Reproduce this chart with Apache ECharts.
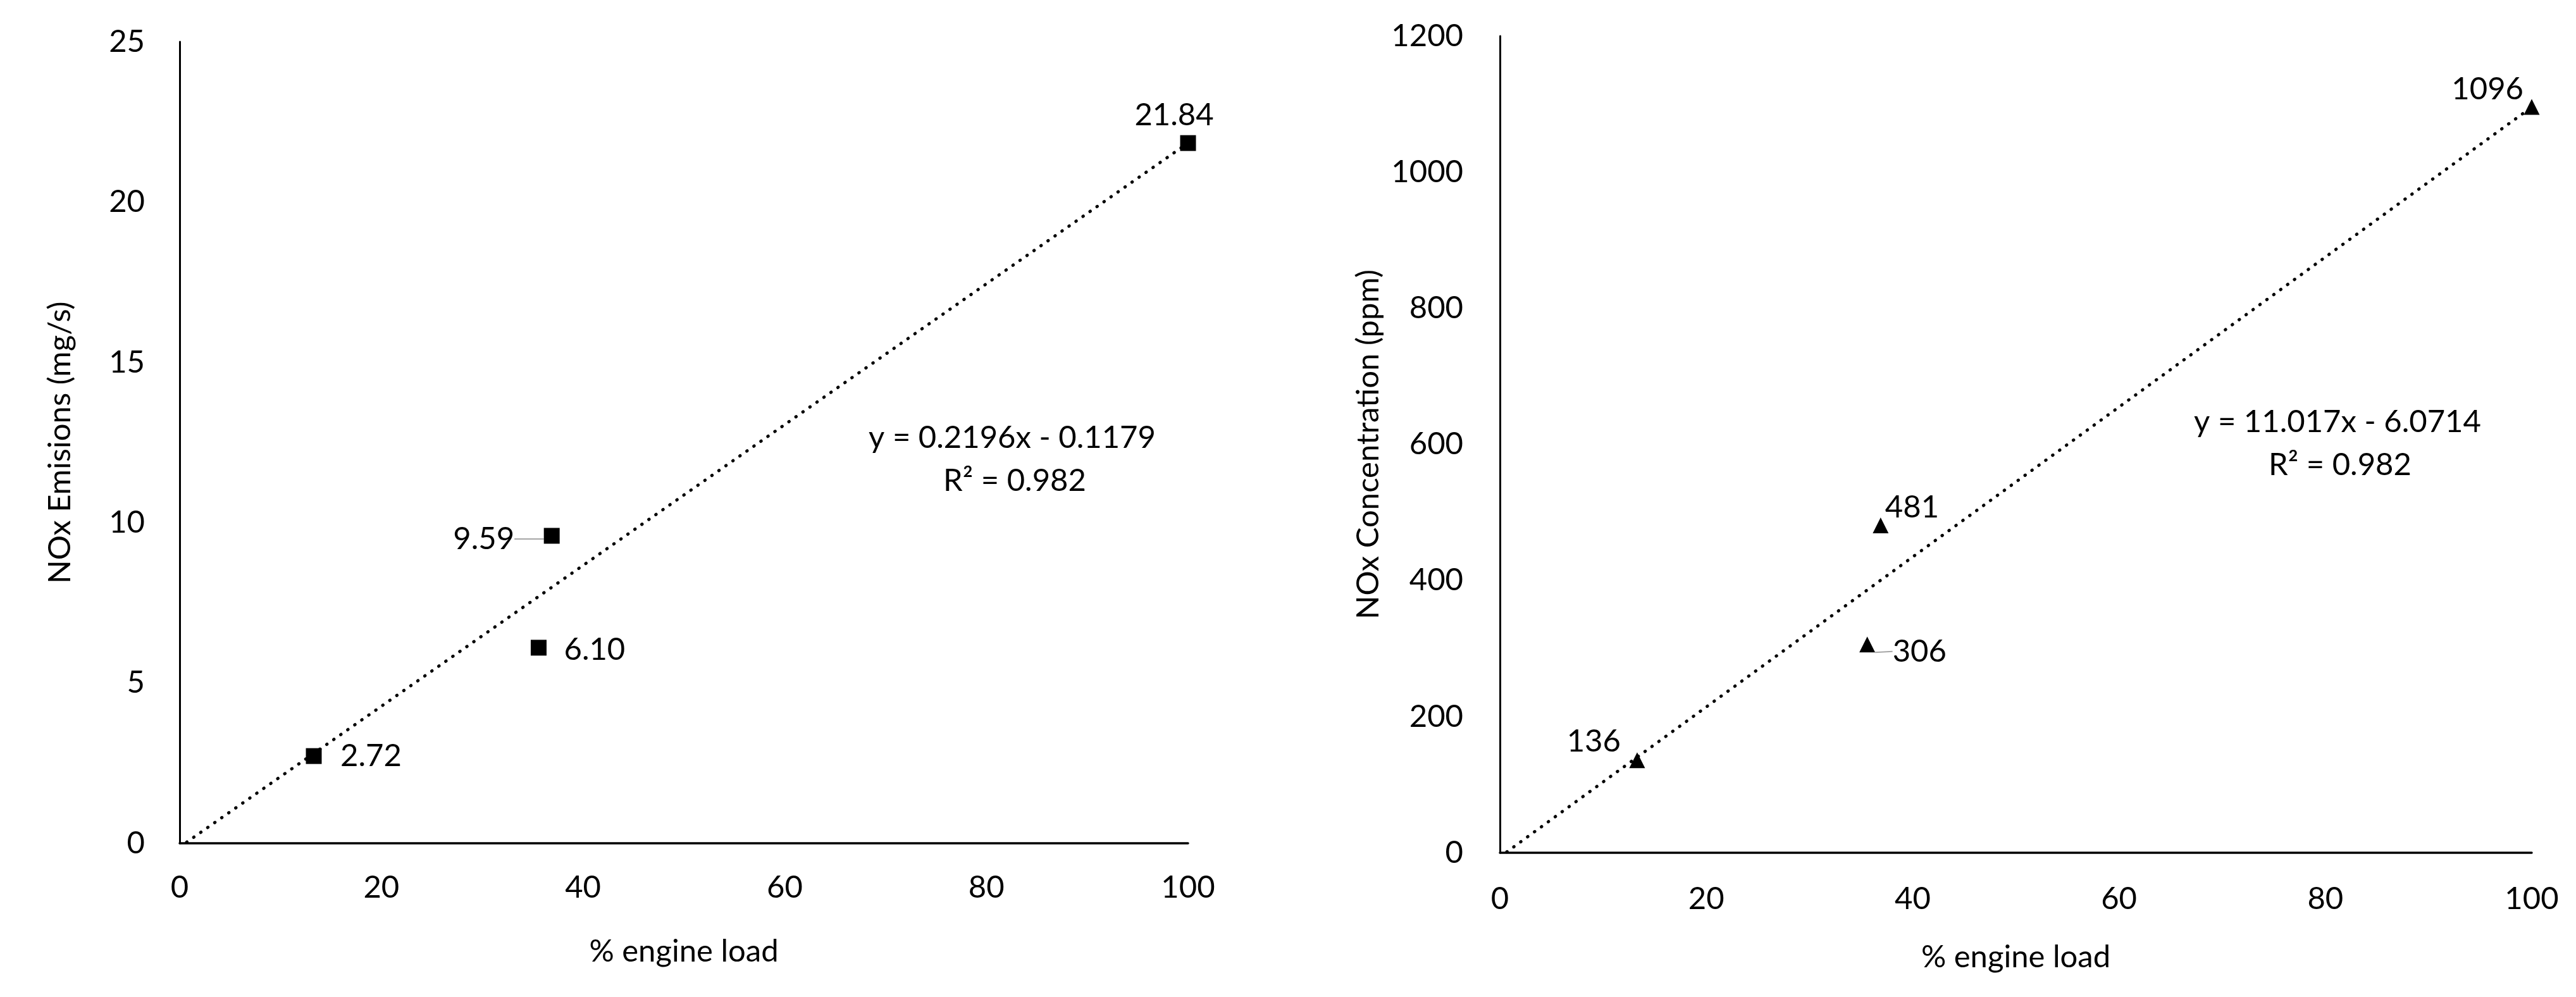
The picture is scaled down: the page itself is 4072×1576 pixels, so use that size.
<!DOCTYPE html>
<html><head><meta charset="utf-8">
<script src="https://cdn.jsdelivr.net/npm/echarts@6/dist/echarts.min.js"></script>
<style>html,body{margin:0;padding:0;background:#fff}#c{width:4072px;height:1576px}</style>
</head><body><div id="c"></div>
<script>
// ---- data ----
const engineLoad = [13.3, 36.9, 35.6, 100];
const noxEmissions = [2.72, 9.59, 6.10, 21.84];
const noxEmissionLabels = ['2.72', '9.59', '6.10', '21.84'];
const noxConcentration = [136, 481, 306, 1096];
const noxConcentrationLabels = ['136', '481', '306', '1096'];
const xTicks = [0, 20, 40, 60, 80, 100];
const leftYTicks = [0, 5, 10, 15, 20, 25];
const rightYTicks = [0, 200, 400, 600, 800, 1000, 1200];
const leftTrendCoef = [0.2196, -0.1179];   // slope, intercept
const rightTrendCoef = [11.017, -6.0714];
const leftTrendText = ['y = 0.2196x - 0.1179', 'R² = 0.982'];
const rightTrendText = ['y = 11.017x - 6.0714', 'R² = 0.982'];
const xTitle = '% engine load';
const leftYTitle = 'NOx Emisions (mg/s)';
const rightYTitle = 'NOx Concentration (ppm)';

// ---- label placement (style only) ----
const leftLabelPlace = [
  {dx: 42, dy: 0, align: 'left'},
  {dx: -59, dy: 5, align: 'right', leader: true},
  {dx: 40, dy: 3, align: 'left'},
  {dx: -22, dy: -44, align: 'center'}
];
const rightLabelPlace = [
  {dx: -26, dy: -29, align: 'right'},
  {dx: 7, dy: -28, align: 'left'},
  {dx: 40, dy: 11, align: 'left', leader: true},
  {dx: -13, dy: -28, align: 'right'}
];

const FONT = 'Lato';
const FS = 49;
const TXT = '#000';

function axisX(gridIndex, labelMargin, nameGap) {
  return {
    type: 'value', gridIndex, min: xTicks[0], max: xTicks[xTicks.length - 1],
    interval: xTicks[1] - xTicks[0],
    splitLine: {show: false}, axisTick: {show: false},
    axisLine: {lineStyle: {color: '#000', width: 3.5}},
    axisLabel: {fontFamily: FONT, fontSize: FS, color: TXT, margin: labelMargin, verticalAlign: 'middle',
                formatter: v => String(v)},
    name: xTitle, nameLocation: 'middle', nameGap: nameGap,
    nameTextStyle: {fontFamily: FONT, fontSize: FS, color: TXT, verticalAlign: 'middle'}
  };
}
function axisY(gridIndex, ticks, labelMargin, name, nameGap) {
  return {
    type: 'value', gridIndex, min: ticks[0], max: ticks[ticks.length - 1],
    interval: ticks[1] - ticks[0],
    splitLine: {show: false}, axisTick: {show: false},
    axisLine: {show: true, lineStyle: {color: '#000', width: 3}},
    axisLabel: {fontFamily: FONT, fontSize: FS, color: TXT, margin: labelMargin, formatter: v => String(v)},
    name: name, nameLocation: 'middle', nameGap: nameGap, nameRotate: 90,
    nameTextStyle: {fontFamily: FONT, fontSize: FS, color: TXT, verticalAlign: 'middle'}
  };
}
function scatterData(xs, ys, labels, place, half) {
  return xs.map((x, i) => {
    const p = place[i];
    const item = {
      value: [x, ys[i]],
      label: {
        show: true, formatter: labels[i],
        position: [half + p.dx, half + p.dy], align: p.align, verticalAlign: 'middle',
        fontFamily: FONT, fontSize: FS, color: TXT
      }
    };
    if (p.leader) item.labelLine = {show: true, lineStyle: {color: '#a6a6a6', width: 2}};
    return item;
  });
}
function trendData(coef) {
  const x0 = xTicks[0], x1 = xTicks[xTicks.length - 1];
  return [[x0, coef[0] * x0 + coef[1]], [x1, coef[0] * x1 + coef[1]]];
}
const dotted = {color: '#000', width: 5, type: [0.5, 13], cap: 'round'};

const chart = echarts.init(document.getElementById('c'), null, {renderer: 'canvas'});
chart.setOption({
  backgroundColor: '#fff',
  animation: false,
  grid: [
    {left: 284, right: 4072 - 1878, top: 66, bottom: 1576 - 1333, containLabel: false, outerBoundsMode: 'none'},
    {left: 2371, right: 4072 - 4002, top: 57, bottom: 1576 - 1348, containLabel: false, outerBoundsMode: 'none'}
  ],
  xAxis: [axisX(0, 70, 171), axisX(1, 73, 165)],
  yAxis: [axisY(0, leftYTicks, 55, leftYTitle, 189), axisY(1, rightYTicks, 58, rightYTitle, 208)],
  series: [
    {type: 'line', xAxisIndex: 0, yAxisIndex: 0, data: trendData(leftTrendCoef), symbol: 'none',
     lineStyle: dotted, clip: true, silent: true, z: 1},
    {type: 'line', xAxisIndex: 1, yAxisIndex: 1, data: trendData(rightTrendCoef), symbol: 'none',
     lineStyle: dotted, clip: true, silent: true, z: 1},
    {type: 'scatter', xAxisIndex: 0, yAxisIndex: 0, symbol: 'rect', symbolSize: 25,
     itemStyle: {color: '#000', opacity: 1}, z: 3, labelLine: {show: false},
     data: scatterData(engineLoad, noxEmissions, noxEmissionLabels, leftLabelPlace, 12.5)},
    {type: 'scatter', xAxisIndex: 1, yAxisIndex: 1, symbol: 'triangle', symbolSize: 25,
     itemStyle: {color: '#000', opacity: 1}, z: 3, labelLine: {show: false},
     data: scatterData(engineLoad, noxConcentration, noxConcentrationLabels, rightLabelPlace, 12.5)}
  ],
  graphic: [
    {type: 'text', x: 1600, y: 692, style: {text: leftTrendText[0], font: FS + 'px ' + FONT, fill: TXT, align: 'center', verticalAlign: 'middle'}},
    {type: 'text', x: 1604, y: 760, style: {text: leftTrendText[1], font: FS + 'px ' + FONT, fill: TXT, align: 'center', verticalAlign: 'middle'}},
    {type: 'text', x: 3695, y: 667, style: {text: rightTrendText[0], font: FS + 'px ' + FONT, fill: TXT, align: 'center', verticalAlign: 'middle'}},
    {type: 'text', x: 3699, y: 735, style: {text: rightTrendText[1], font: FS + 'px ' + FONT, fill: TXT, align: 'center', verticalAlign: 'middle'}}
  ]
});
</script>
</body></html>
